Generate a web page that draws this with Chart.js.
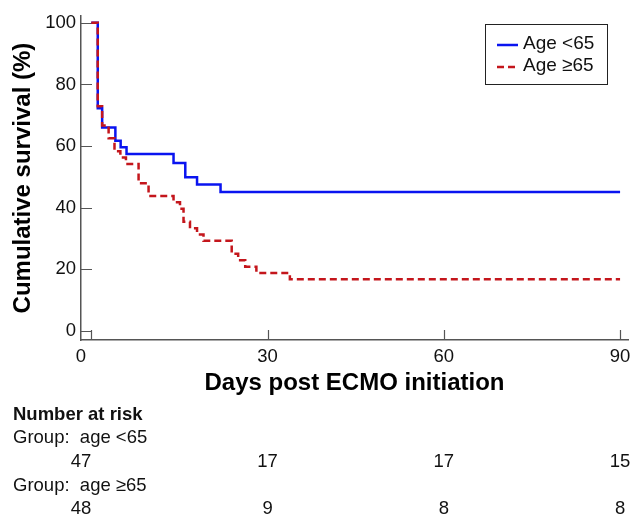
<!DOCTYPE html>
<html>
<head>
<meta charset="utf-8">
<script src="https://cdn.jsdelivr.net/npm/chart.js@4.4.1/dist/chart.umd.min.js"></script>
<style>
  html, body { margin: 0; padding: 0; background: #fff; }
  #wrap { width: 633px; height: 516px; }
</style>
</head>
<body>
<div id="wrap"><canvas id="km" width="633" height="516"></canvas></div>
<script>
// tick values
const xTicks = [0, 30, 60, 90];
const yTicks = [0, 20, 40, 60, 80, 100];

// Kaplan-Meier steps, age < 65
const youngDays = [0, 1.1, 1.85, 4.1, 5.0, 6.0, 14.0, 16.0, 18.0, 22.0, 90];
const youngSurv = [100, 72.3, 66.0, 61.7, 59.6, 57.4, 54.5, 49.9, 47.5, 45.1, 45.1];

// Kaplan-Meier steps, age >= 65
const oldDays = [0, 1.1, 1.85, 2.95, 3.95, 4.95, 5.9, 8.05, 9.75, 14.0, 15.1, 15.7, 16.8, 18.0, 19.1, 23.9, 25.0, 26.2, 28.1, 33.8, 90];
const oldSurv = [100, 72.9, 66.7, 62.5, 58.3, 56.3, 54.2, 47.9, 43.8, 41.7, 39.6, 35.4, 33.3, 31.3, 29.2, 25.0, 22.9, 20.8, 18.8, 16.7, 16.7];

// number at risk
const riskTimes = [0, 30, 60, 90];
const riskYoung = [47, 17, 17, 15];
const riskOld = [48, 9, 8, 8];

const legendLabels = ['Age <65', 'Age \u226565'];
const groupLabels = ['Group:  age <65', 'Group:  age \u226565'];

const FONT = "'Liberation Sans', Arial, sans-serif";
const AXIS = '#555';
const BLUE = '#0a14f0';
const RED = '#c4161c';

const toPoints = (xs, ys) => xs.map((d, i) => ({ x: d, y: ys[i] }));

// first label sits on the axis origin, like the original software does
const labelX = (scale, v, i) => (i === 0 ? scale.left : scale.getPixelForValue(v));

const extras = {
  id: 'extras',
  beforeDatasetsDraw(chart) {
    const { ctx, chartArea: a, scales: { x, y } } = chart;
    ctx.save();
    ctx.strokeStyle = AXIS;
    ctx.lineWidth = 1.2;
    ctx.beginPath();
    yTicks.forEach(v => {
      const py = Math.round(y.getPixelForValue(v)) + 0.5;
      ctx.moveTo(a.left, py); ctx.lineTo(a.left + 11, py);
    });
    xTicks.forEach(v => {
      const px = Math.round(x.getPixelForValue(v)) + 0.5;
      ctx.moveTo(px, a.bottom); ctx.lineTo(px, a.bottom - 10);
    });
    ctx.stroke();

    ctx.fillStyle = '#111';
    ctx.font = '18.5px ' + FONT;
    ctx.textAlign = 'center';
    ctx.textBaseline = 'middle';
    xTicks.forEach((v, i) => ctx.fillText(String(v), labelX(x, v, i), a.bottom + 17));
    ctx.restore();
  },
  afterDraw(chart) {
    const { ctx, scales: { x } } = chart;
    ctx.save();
    // legend box
    const bx = 485, by = 24, bw = 122, bh = 60;
    ctx.fillStyle = '#fff';
    ctx.fillRect(bx, by, bw, bh);
    ctx.strokeStyle = '#222';
    ctx.lineWidth = 1;
    ctx.strokeRect(bx + 0.5, by + 0.5, bw, bh);
    chart.data.datasets.forEach((ds, i) => {
      const ly = by + 21 + i * 22;
      ctx.strokeStyle = ds.borderColor;
      ctx.lineWidth = 2.5;
      ctx.setLineDash(ds.borderDash || []);
      ctx.beginPath();
      ctx.moveTo(bx + 12, ly); ctx.lineTo(bx + 33, ly);
      ctx.stroke();
      ctx.setLineDash([]);
      ctx.fillStyle = '#111';
      ctx.font = '19px ' + FONT;
      ctx.textBaseline = 'middle';
      ctx.textAlign = 'left';
      ctx.fillText(legendLabels[i], bx + 38, ly - 1);
    });

    // number at risk table
    ctx.fillStyle = '#111';
    ctx.textBaseline = 'middle';
    ctx.textAlign = 'left';
    ctx.font = 'bold 18.5px ' + FONT;
    ctx.fillText('Number at risk', 13, 415);
    ctx.font = '18.5px ' + FONT;
    ctx.fillText(groupLabels[0], 13, 438);
    ctx.fillText(groupLabels[1], 13, 486);
    ctx.textAlign = 'center';
    riskTimes.forEach((t, i) => {
      const px = labelX(x, t, i);
      ctx.fillText(String(riskYoung[i]), px, 462);
      ctx.fillText(String(riskOld[i]), px, 509);
    });
    ctx.restore();
  }
};

new Chart(document.getElementById('km'), {
  type: 'line',
  data: {
    datasets: [
      {
        label: legendLabels[0],
        data: toPoints(youngDays, youngSurv),
        stepped: true,
        borderColor: BLUE,
        borderWidth: 2.5,
        pointRadius: 0,
        fill: false,
        order: 1
      },
      {
        label: legendLabels[1],
        data: toPoints(oldDays, oldSurv),
        stepped: true,
        borderColor: RED,
        borderWidth: 2.5,
        borderDash: [7, 4],
        pointRadius: 0,
        fill: false,
        order: 0
      }
    ]
  },
  options: {
    responsive: false,
    animation: false,
    events: [],
    layout: { padding: { top: 16, right: 5, bottom: 116, left: 0 } },
    plugins: { legend: { display: false }, tooltip: { enabled: false } },
    scales: {
      x: {
        type: 'linear',
        min: -1.75,
        max: 91.35,
        afterBuildTicks: s => { s.ticks = xTicks.map(v => ({ value: v })); },
        afterFit: s => { s.height = 60; },
        grid: { display: false, drawTicks: false },
        border: { display: true, color: AXIS, width: 1.5 },
        ticks: { display: false },
        title: {
          display: true,
          text: 'Days post ECMO initiation',
          color: '#000',
          font: { family: FONT, size: 24, weight: 'bold' },
          padding: { top: 0, bottom: 2.6 }
        }
      },
      y: {
        type: 'linear',
        min: -3.0,
        max: 102.2,
        afterBuildTicks: s => { s.ticks = yTicks.map(v => ({ value: v })); },
        afterFit: s => { s.width = 81; },
        grid: { display: false, drawTicks: false },
        border: { display: true, color: AXIS, width: 1.5 },
        ticks: { color: '#111', padding: 5, font: { family: FONT, size: 18.5 } },
        title: {
          display: true,
          text: 'Cumulative survival (%)',
          color: '#000',
          font: { family: FONT, size: 24, weight: 'bold' },
          padding: { top: 8.5, bottom: 0 }
        }
      }
    }
  },
  plugins: [extras]
});
</script>
</body>
</html>
